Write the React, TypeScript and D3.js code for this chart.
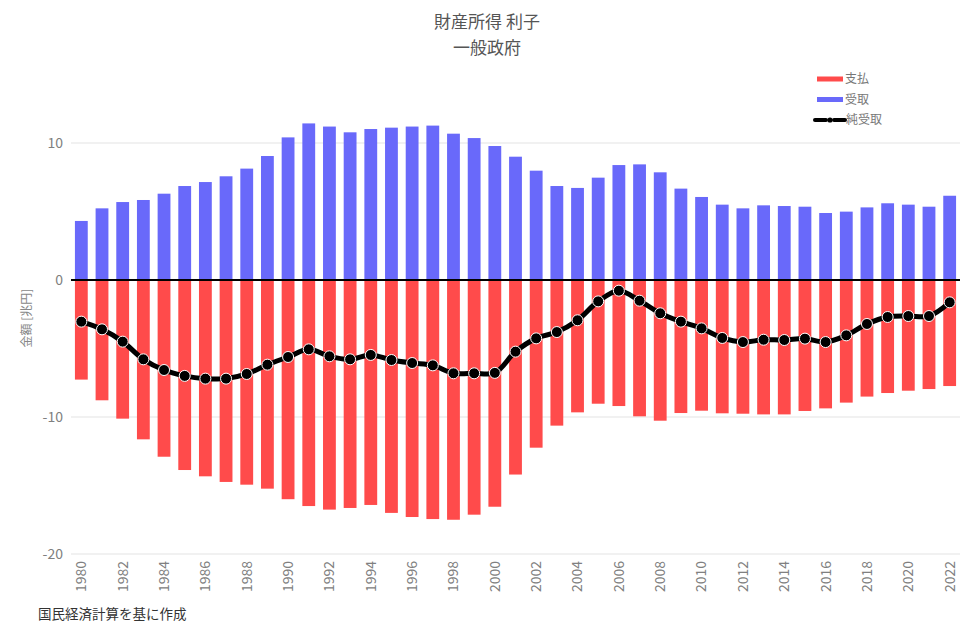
import React, { useRef, useEffect } from "react";
import * as d3 from "d3";

const years = d3.range(1980, 2023);

// 受取 (receipts), 兆円
const receipts = [
  4.31, 5.23, 5.69, 5.84, 6.3, 6.86, 7.15, 7.57, 8.13, 9.05,
  10.41, 11.43, 11.2, 10.78, 11.02, 11.12, 11.2, 11.27, 10.68, 10.36,
  9.78, 9.0, 7.98, 6.86, 6.72, 7.47, 8.39, 8.44, 7.86, 6.67,
  6.06, 5.5, 5.23, 5.45, 5.4, 5.35, 4.89, 4.99, 5.3, 5.6,
  5.5, 5.35, 6.15,
];

// 支払 (payments), 兆円
const payments = [
  -7.27, -8.78, -10.12, -11.63, -12.9, -13.87, -14.33, -14.74, -14.94, -15.23,
  -16.0, -16.5, -16.76, -16.64, -16.42, -17.0, -17.3, -17.45, -17.5, -17.13,
  -16.55, -14.2, -12.24, -10.63, -9.66, -9.03, -9.2, -9.95, -10.27, -9.71,
  -9.54, -9.73, -9.76, -9.81, -9.81, -9.56, -9.37, -8.95, -8.51, -8.25,
  -8.08, -7.96, -7.74,
];

// 純受取 (net)
const net = [
  -3.04, -3.6, -4.5, -5.79, -6.57, -7.0, -7.2, -7.2, -6.86, -6.18,
  -5.62, -5.06, -5.57, -5.79, -5.47, -5.84, -6.06, -6.23, -6.81, -6.81,
  -6.78, -5.23, -4.26, -3.8, -2.94, -1.56, -0.78, -1.51, -2.43, -3.04,
  -3.53, -4.23, -4.53, -4.36, -4.38, -4.28, -4.53, -4.04, -3.21, -2.7,
  -2.63, -2.63, -1.63,
];

const yTicks = [-20, -10, 0, 10];
const xTickYears = years.filter((y) => y % 2 === 0);

const titleLines = ["財産所得 利子", "一般政府"];
const yTitle = "金額 [兆円]";
const sourceNote = "国民経済計算を基に作成";
const legendItems = [
  { key: "pay", label: "支払" },
  { key: "rec", label: "受取" },
  { key: "net", label: "純受取" },
];

const RED = "#ff4b4b";
const BLUE = "#6969fa";
const FONT = "'Noto Sans CJK JP', 'Noto Sans', sans-serif";

const App: React.FC = () => {
  const ref = useRef<SVGSVGElement | null>(null);

  useEffect(() => {
    document.body.style.margin = "0";
    if (!ref.current) return;
    const svg = d3.select(ref.current);
    svg.selectAll("*").remove();

    const left = 71;
    const right = 960;

    const x = d3.scaleLinear().domain([1979.5, 2022.5]).range([left, right]);
    const y = d3.scaleLinear().domain([-20, 10]).range([554, 143]);
    const barW = (x(1) - x(0)) * 0.62;

    // gridlines
    svg
      .append("g")
      .selectAll("line")
      .data(yTicks.filter((t) => t !== 0))
      .enter()
      .append("line")
      .attr("x1", left)
      .attr("x2", right)
      .attr("y1", (d) => y(d))
      .attr("y2", (d) => y(d))
      .attr("stroke", "#e3e3e3")
      .attr("stroke-width", 1);

    // y tick labels
    svg
      .append("g")
      .selectAll("text")
      .data(yTicks)
      .enter()
      .append("text")
      .attr("x", 63)
      .attr("y", (d) => y(d))
      .attr("dy", "0.35em")
      .attr("text-anchor", "end")
      .attr("font-family", FONT)
      .attr("font-size", 14)
      .attr("fill", "#808080")
      .text((d) => String(d));

    // bars
    const bars = svg.append("g");
    bars
      .selectAll("rect.rec")
      .data(receipts)
      .enter()
      .append("rect")
      .attr("class", "rec")
      .attr("x", (_, i) => x(years[i]) - barW / 2)
      .attr("width", barW)
      .attr("y", (d) => y(d))
      .attr("height", (d) => y(0) - y(d))
      .attr("fill", BLUE);

    bars
      .selectAll("rect.pay")
      .data(payments)
      .enter()
      .append("rect")
      .attr("class", "pay")
      .attr("x", (_, i) => x(years[i]) - barW / 2)
      .attr("width", barW)
      .attr("y", y(0))
      .attr("height", (d) => y(d) - y(0))
      .attr("fill", RED);

    // zero line
    svg
      .append("line")
      .attr("x1", left)
      .attr("x2", right)
      .attr("y1", y(0))
      .attr("y2", y(0))
      .attr("stroke", "#000")
      .attr("stroke-width", 2);

    // net line
    const line = d3
      .line<number>()
      .x((_, i) => x(years[i]))
      .y((d) => y(d))
      .curve(d3.curveCatmullRom.alpha(0.5));

    svg
      .append("path")
      .datum(net)
      .attr("fill", "none")
      .attr("stroke", "#000")
      .attr("stroke-width", 5)
      .attr("d", line);

    svg
      .append("g")
      .selectAll("circle")
      .data(net)
      .enter()
      .append("circle")
      .attr("cx", (_, i) => x(years[i]))
      .attr("cy", (d) => y(d))
      .attr("r", 5.5)
      .attr("fill", "#000")
      .attr("stroke", "#fff")
      .attr("stroke-width", 1);

    // x tick labels (rotated)
    svg
      .append("g")
      .selectAll("text")
      .data(xTickYears)
      .enter()
      .append("text")
      .attr("transform", (d) => `translate(${x(d)},561) rotate(-90)`)
      .attr("dy", "0.35em")
      .attr("text-anchor", "end")
      .attr("font-family", FONT)
      .attr("font-size", 14)
      .attr("fill", "#808080")
      .text((d) => String(d));

    // y axis title
    svg
      .append("text")
      .attr("transform", "translate(27,318) rotate(-90)")
      .attr("dy", "0.35em")
      .attr("text-anchor", "middle")
      .attr("font-family", FONT)
      .attr("font-size", 12)
      .attr("fill", "#888")
      .text(yTitle);

    // title
    svg
      .append("g")
      .selectAll("text")
      .data(titleLines)
      .enter()
      .append("text")
      .attr("x", 487)
      .attr("y", (_, i) => 22 + i * 26)
      .attr("dy", "0.35em")
      .attr("text-anchor", "middle")
      .attr("font-family", FONT)
      .attr("font-size", 17)
      .attr("fill", "#555")
      .text((d) => d);

    // legend
    const lg = svg
      .append("g")
      .selectAll("g")
      .data(legendItems)
      .enter()
      .append("g")
      .attr("transform", (_, i) => `translate(817,${79 + i * 20.5})`);

    lg.filter((d) => d.key !== "net")
      .append("line")
      .attr("x1", 0)
      .attr("x2", 26)
      .attr("stroke", (d) => (d.key === "pay" ? RED : BLUE))
      .attr("stroke-width", 5);

    const netLg = lg.filter((d) => d.key === "net");
    netLg
      .append("line")
      .attr("x1", -2)
      .attr("x2", 9)
      .attr("stroke", "#000")
      .attr("stroke-width", 4)
      .attr("stroke-linecap", "round");
    netLg
      .append("line")
      .attr("x1", 17)
      .attr("x2", 28)
      .attr("stroke", "#000")
      .attr("stroke-width", 4)
      .attr("stroke-linecap", "round");
    netLg
      .append("circle")
      .attr("cx", 13)
      .attr("r", 2.6)
      .attr("fill", "#000");

    lg.append("text")
      .attr("x", (d) => (d.key === "net" ? 29 : 28))
      .attr("dy", "0.35em")
      .attr("font-family", FONT)
      .attr("font-size", 12)
      .attr("fill", "#777")
      .text((d) => d.label);

    // source note
    svg
      .append("text")
      .attr("x", 38)
      .attr("y", 614)
      .attr("dy", "0.35em")
      .attr("font-family", FONT)
      .attr("font-size", 13.5)
      .attr("fill", "#333")
      .text(sourceNote);
  }, []);

  return (
    <svg
      ref={ref}
      width={975}
      height={636}
      style={{ display: "block", background: "#fff" }}
    ></svg>
  );
};

export default App;
